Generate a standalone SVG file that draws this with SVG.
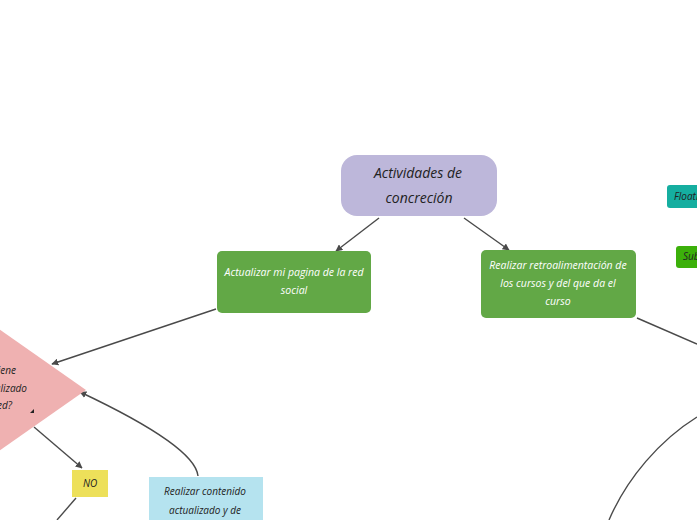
<svg xmlns="http://www.w3.org/2000/svg" width="697" height="520" viewBox="0 0 697 520">
<style>
text{font-family:"Open Sans","Liberation Sans",sans-serif;font-style:italic;text-anchor:middle}
.c{fill:none;stroke:#4a4a4a;stroke-width:1.4}
.w{fill:#ffffff;font-size:10.5px}
.d{fill:#222222;font-size:10px}
.e{text-anchor:end}
</style>
<defs>
<marker id="a" viewBox="0 0 10 10" refX="9" refY="5" markerWidth="7" markerHeight="7" orient="auto-start-reverse" markerUnits="userSpaceOnUse">
<path d="M0,0 L10,5 L0,10 z" fill="#4a4a4a"/>
</marker>
</defs>
<rect width="697" height="520" fill="#ffffff"/>
<g id="connectors">
<path class="c" d="M379,218 L336,251" marker-end="url(#a)"/>
<path class="c" d="M464,218 L509,250" marker-end="url(#a)"/>
<path class="c" d="M216,309 L52,364" marker-end="url(#a)"/>
<path class="c" d="M34,427 L82,468" marker-end="url(#a)"/>
<path class="c" d="M76,498 L57,520"/>
<path class="c" d="M198,476 C196,455 150,425 80,392" marker-end="url(#a)"/>
<path class="c" d="M637,318 L697,344"/>
<path class="c" d="M697,417 C660,440 627,478 609,520"/>
</g>
<g id="root">
<rect x="341" y="155" width="156" height="61" rx="16" fill="#bdb7da"/>
<text x="418" y="178" font-size="14" fill="#222">Actividades de</text>
<text x="419" y="203" font-size="14" fill="#222">concreción</text>
</g>
<g id="node-pagina">
<rect x="217" y="251" width="154" height="62" rx="5" fill="#62a846"/>
<text class="w" x="294" y="276">Actualizar mi pagina de la red</text>
<text class="w" x="294" y="294">social</text>
</g>
<g id="node-retro">
<rect x="481" y="250" width="155" height="68" rx="5" fill="#62a846"/>
<text class="w" x="558" y="269">Realizar retroalimentación de</text>
<text class="w" x="558" y="287">los cursos y del que da el</text>
<text class="w" x="558" y="305">curso</text>
</g>
<g id="node-decision">
<polygon points="-4,327 86,390 -4,453 -94,390" fill="#efb1b1"/>
<text class="d e" x="16" y="374">¿Tiene</text>
<text class="d e" x="27" y="392">actualizado</text>
<text class="d e" x="12" y="409">su red?</text>
<path d="M30,413 L34,409 L34,413 z" fill="#222"/>
</g>
<g id="node-no">
<rect x="72" y="470" width="36" height="27" fill="#ede05a"/>
<text class="d" x="90" y="487">NO</text>
</g>
<g id="node-contenido">
<rect x="149" y="477" width="114" height="50" fill="#b5e3ef"/>
<text class="d" x="205" y="495">Realizar contenido</text>
<text class="d" x="205" y="514">actualizado y de</text>
</g>
<g id="node-floating">
<rect x="667" y="185" width="50" height="23" rx="3" fill="#15aea0"/>
<text class="d" x="674" y="200" font-size="9" style="text-anchor:start">Floating Topic</text>
</g>
<g id="node-subtopic">
<rect x="676" y="246" width="40" height="22" rx="3" fill="#3cb00a"/>
<text class="d" x="683" y="260" font-size="9" style="text-anchor:start">Subtopic</text>
</g>
</svg>
